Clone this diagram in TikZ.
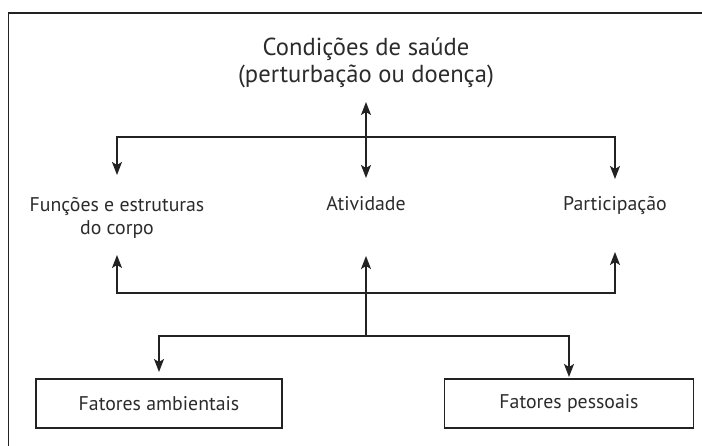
\documentclass[tikz,border=0pt]{standalone}
\usepackage{fontspec}
\setmainfont{PT Sans}
\usetikzlibrary{arrows.meta}
\definecolor{txt}{HTML}{2B2B2B}
\definecolor{ln}{HTML}{222222}
\begin{document}
\begin{tikzpicture}[x=1pt,y=-1pt,
  lbl/.style={inner sep=0pt, text=txt, font=\fontsize{19.8}{23}\selectfont, align=center},
  ttl/.style={inner sep=0pt, text=txt, font=\fontsize{24.6}{27}\selectfont, align=center},
  box/.style={draw=ln, line width=1.3pt, minimum height=49pt, text=txt, font=\fontsize{19.8}{23}\selectfont},
  conn/.style={draw=ln, line width=1.5pt},
  tip/.tip={Stealth[length=13pt,width=10pt,inset=3pt]},
  arr/.style={conn, -tip},
  arrb/.style={conn, tip-tip},
  framel/.style={draw=ln, line width=1.3pt}]
\useasboundingbox (0,0) rectangle (702,446);
\draw[framel] (702,13) -- (8.5,13) -- (8.5,446);

\node[ttl] (cond) at (366,62.5) {Condições de saúde\\(perturbação ou doença)};
\node[lbl, anchor=base] (ativ) at (366,211) {Atividade};
\node[lbl, anchor=base] (part) at (615,211) {Participação};
\node[lbl] (func) at (117,218) {Funções e estruturas\\do corpo};
\node[box, minimum width=246pt] (amb) at (159,403.5) {Fatores ambientais};
\node[box, minimum width=249pt] (pes) at (569,403.5) {Fatores pessoais};

\coordinate (jt) at (366,137);
\coordinate (jm) at (366,293);
\coordinate (jb) at (366,336);

\draw[arrb, shorten <=39.5pt, shorten >=33pt] (cond.center) -- (ativ.base);
\draw[arrb, shorten <=43pt, shorten >=32pt] (func.center) -- (func.center |- jt) -- (part.base |- jt) -- (part.base);
\draw[arrb, shorten <=37pt, shorten >=41pt] (func.center) -- (func.center |- jm) -- (part.base |- jm) -- (part.base);
\draw[arr, shorten >=45pt] (jb) -- (ativ.base);
\draw[arrb, shorten <=31.5pt, shorten >=26.5pt] (amb.center) -- (amb.center |- jb) -- (pes.center |- jb) -- (pes.center);
\end{tikzpicture}
\end{document}
